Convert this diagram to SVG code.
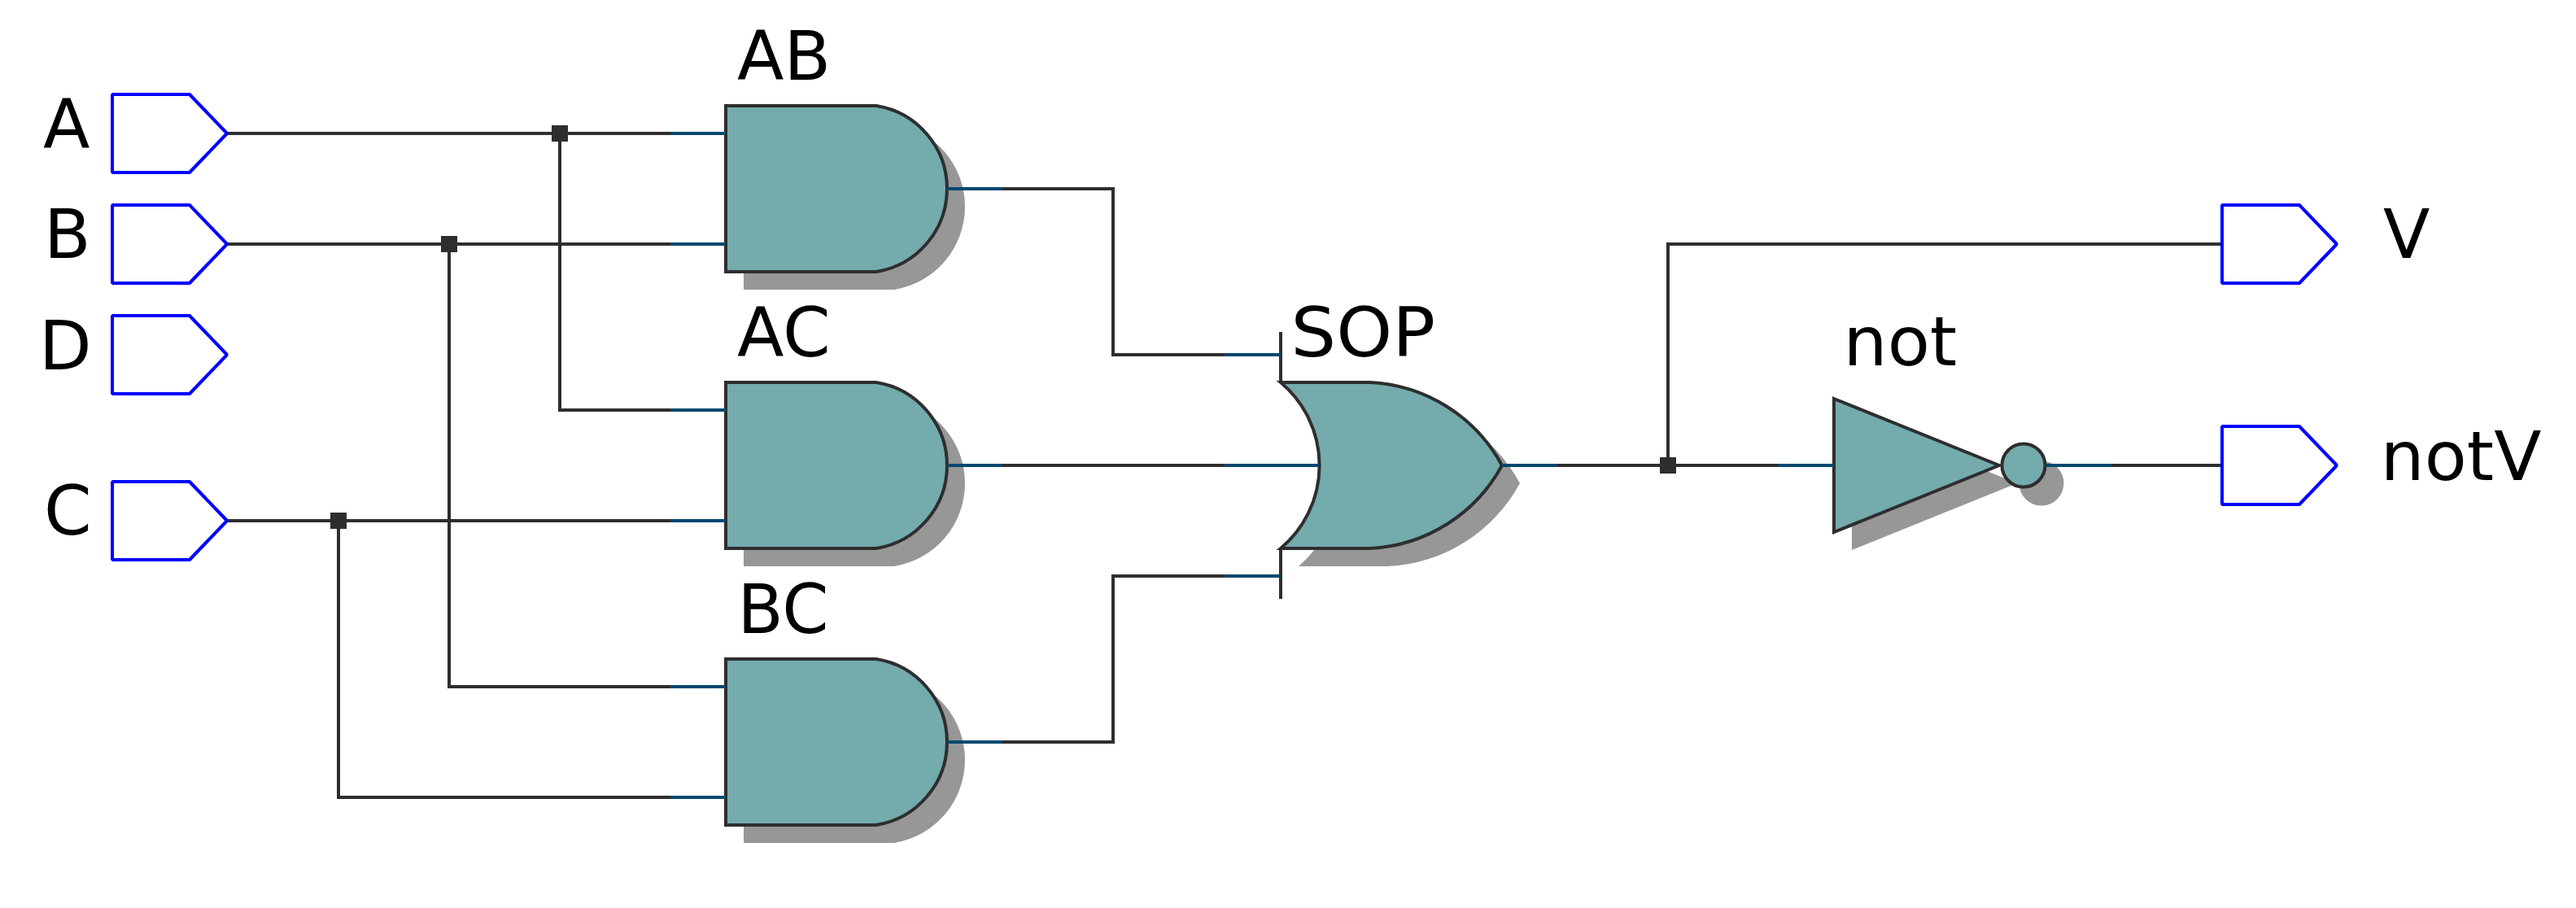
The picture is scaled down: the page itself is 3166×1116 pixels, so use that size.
<svg xmlns="http://www.w3.org/2000/svg" width="3166" height="1116" viewBox="0 0 3166 1116">
<style>
text{font-family:"DejaVu Sans",sans-serif;font-size:84px;fill:#000}
.port{fill:#fff;stroke:#0000ff;stroke-width:4;stroke-linejoin:bevel}
.gate{fill:#74abad;stroke:#2e2e2e;stroke-width:4;stroke-linejoin:miter}
.shadow{fill:#979797;stroke:none}
.wire{fill:none;stroke:#2e2e2e;stroke-width:4}
.stub{fill:none;stroke:#004870;stroke-width:4}
.dot{fill:#2e2e2e;stroke:none}
</style>
<defs>
<path id="portShape" d="M1 -48H96L142 0L96 48H1Z"/>
<path id="andShape" d="M0 -102H185A103.3 103.3 0 0 1 185 102H0Z"/>
<path id="orShape" d="M1574 470H1684A195 195 0 0 1 1846 572A195 195 0 0 1 1684 674H1574A133 133 0 0 0 1574 470Z"/>
<path id="notShape" d="M2254 490L2457 572L2254 654Z"/>
</defs>
<rect width="3166" height="1116" fill="#fff"/>
<g id="connectors">
<path class="wire" d="M279 164H824"/>
<path class="wire" d="M279 300H824"/>
<path class="wire" d="M279 640H824"/>
<path class="wire" d="M688 164V504H824"/>
<path class="wire" d="M552 300V844H824"/>
<path class="wire" d="M416 640V980H824"/>
<path class="wire" d="M1232 232H1368V436H1505"/>
<path class="wire" d="M1232 572H1505"/>
<path class="wire" d="M1232 912H1368V708H1505"/>
<path class="wire" d="M1914 572H2185"/>
<path class="wire" d="M2050 572V300H2730"/>
<path class="wire" d="M2595 572H2730"/>
<rect class="dot" x="678" y="154" width="20" height="20"/>
<rect class="dot" x="542" y="290" width="20" height="20"/>
<rect class="dot" x="406" y="630" width="20" height="20"/>
<rect class="dot" x="2040" y="562" width="20" height="20"/>
</g>
<g id="port-A"><use href="#portShape" class="port" x="137" y="164"/><text x="53" y="182">A</text></g>
<g id="port-B"><use href="#portShape" class="port" x="137" y="300"/><text x="54" y="317">B</text></g>
<g id="port-D"><use href="#portShape" class="port" x="137" y="436"/><text x="48" y="454">D</text></g>
<g id="port-C"><use href="#portShape" class="port" x="137" y="640"/><text x="54" y="657">C</text></g>
<g id="gate-AB">
<use href="#andShape" class="shadow" x="914" y="254"/>
<use href="#andShape" class="gate" x="892" y="232"/>
<path class="stub" d="M824 164H892M824 300H892M1164 232H1232"/>
<text x="906" y="98">AB</text>
</g>
<g id="gate-AC">
<use href="#andShape" class="shadow" x="914" y="594"/>
<use href="#andShape" class="gate" x="892" y="572"/>
<path class="stub" d="M824 504H892M824 640H892M1164 572H1232"/>
<text x="906" y="438">AC</text>
</g>
<g id="gate-BC">
<use href="#andShape" class="shadow" x="914" y="934"/>
<use href="#andShape" class="gate" x="892" y="912"/>
<path class="stub" d="M824 844H892M824 980H892M1164 912H1232"/>
<text x="906.5" y="778" textLength="112" lengthAdjust="spacingAndGlyphs">BC</text>
</g>
<g id="gate-SOP">
<use href="#orShape" class="shadow" x="22" y="22"/>
<use href="#orShape" class="gate"/>
<path class="wire" d="M1574 408V470M1574 674V736"/>
<path class="stub" d="M1505 436H1574M1505 572H1621M1505 708H1574M1846 572H1914"/>
<text x="1586.6" y="438" textLength="177.5" lengthAdjust="spacingAndGlyphs">SOP</text>
</g>
<g id="gate-not">
<use href="#notShape" class="shadow" x="22" y="22"/>
<circle class="shadow" cx="2509" cy="594" r="27.5"/>
<use href="#notShape" class="gate"/>
<circle class="gate" cx="2487" cy="572" r="26.5"/>
<path class="stub" d="M2185 572H2254M2515 572H2595"/>
<text x="2265.6" y="449" textLength="139.7" lengthAdjust="spacingAndGlyphs">not</text>
</g>
<g id="port-V"><use href="#portShape" class="port" x="2730" y="300"/><text x="2929" y="317">V</text></g>
<g id="port-notV"><use href="#portShape" class="port" x="2730" y="572"/><text x="2925.8" y="590" textLength="197.6" lengthAdjust="spacingAndGlyphs">notV</text></g>
</svg>
